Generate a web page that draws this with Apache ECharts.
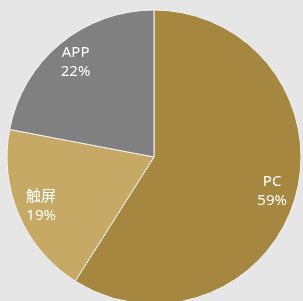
<!DOCTYPE html>
<html>
<head>
<meta charset="utf-8">
<script src="https://cdn.jsdelivr.net/npm/echarts@6/dist/echarts.min.js"></script>
<style>
html,body{margin:0;padding:0;background:#e6e6e6;}
#pie{width:303px;height:301px;}
</style>
</head>
<body>
<div id="pie"></div>
<script>
const categories = ['PC', '触屏', 'APP'];
const shares = [59, 19, 22];
const sliceColors = ['#a6873f', '#c5a964', '#808080'];

function pieData() {
  return categories.map((name, i) => ({name: name, value: shares[i]}));
}

const option = {
  backgroundColor: '#e6e6e6',
  animation: false,
  series: [{
    type: 'pie',
    center: [154, 157],
    radius: [0, 147],
    startAngle: 90,
    clockwise: true,
    silent: true,
    label: {show: false},
    labelLine: {show: false},
    itemStyle: {
      color: function (p) { return sliceColors[p.dataIndex]; },
      borderColor: '#f2f2f2',
      borderWidth: 1
    },
    data: pieData()
  }, {
    // transparent ring only used to place labels further out
    type: 'pie',
    center: [154, 157],
    radius: [98, 142],
    startAngle: 90,
    clockwise: true,
    silent: true,
    itemStyle: {color: 'rgba(0,0,0,0)'},
    label: {
      show: true,
      position: 'inside',
      color: '#ffffff',
      fontSize: 15,
      lineHeight: 19,
      fontFamily: 'Noto Sans, Noto Sans CJK SC',
      formatter: function (p) { return p.name + '\n' + p.value + '%'; }
    },
    labelLine: {show: false},
    data: pieData()
  }]
};

const myChart = echarts.init(document.getElementById('pie'));
myChart.setOption(option);
</script>
</body>
</html>
